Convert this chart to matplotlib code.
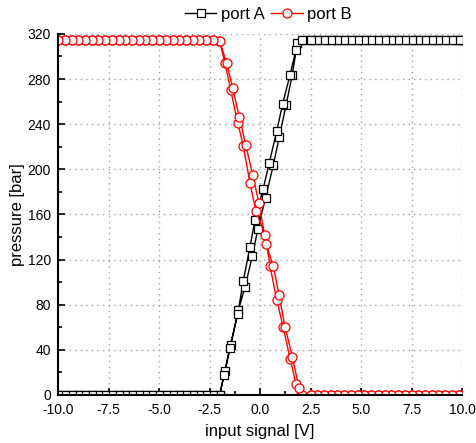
import matplotlib
matplotlib.use("Agg")
import matplotlib.pyplot as plt
from matplotlib.ticker import MultipleLocator

plt.rcParams["font.family"] = ["Liberation Sans", "DejaVu Sans"]

# input signal points on the saturated parts of the sweep [V]
plateau_lo = [-10.0, -9.67, -9.33, -9.0, -8.67, -8.33, -8.0, -7.67, -7.33, -7.0,
              -6.67, -6.33, -6.0, -5.67, -5.33, -5.0, -4.67, -4.33, -4.0, -3.67,
              -3.33, -3.0, -2.67, -2.33]
plateau_hi = [2.5, 2.83, 3.17, 3.5, 3.83, 4.17, 4.5, 4.83, 5.17, 5.5, 5.83, 6.17,
              6.5, 6.83, 7.17, 7.5, 7.83, 8.17, 8.5, 8.83, 9.17, 9.5, 9.83, 10.0]
p_min = 0.0     # bar
p_sat = 315.0   # bar

# port A, rising and falling sweep through the control range
xa_up = [-2.0, -1.73, -1.45, -1.07, -0.74, -0.38, -0.11, 0.28, 0.66, 0.96, 1.29, 1.60, 1.85, 2.18]
ya_up = [0, 21, 44, 75, 96, 123, 147, 175, 204, 229, 257, 284, 312, 315]
xa_dn = [2.1, 1.78, 1.49, 1.12, 0.83, 0.46, 0.16, -0.25, -0.50, -0.83, -1.10, -1.50, -1.78, -2.0]
ya_dn = [315, 306, 284, 258, 234, 206, 183, 155, 131, 101, 72, 42, 18, 0]

# port B
xb_up = [-2.01, -1.73, -1.45, -1.10, -0.83, -0.50, -0.20, 0.25, 0.50, 0.83, 1.15, 1.49, 1.78, 2.01]
yb_up = [314, 294, 270, 241, 221, 188, 163, 142, 114, 84, 60, 32, 10, 0]
xb_dn = [2.1, 1.93, 1.60, 1.24, 0.94, 0.66, 0.30, -0.05, -0.36, -0.71, -1.02, -1.35, -1.65, -2.0]
yb_dn = [0, 6, 34, 60, 89, 114, 134, 170, 195, 222, 246, 272, 294, 314]


def sweep(lo_level, hi_level, x_up, y_up, x_dn, y_dn):
    xs = plateau_lo + x_up + plateau_hi + plateau_hi[::-1] + x_dn + plateau_lo[::-1]
    ys = ([lo_level] * len(plateau_lo) + y_up + [hi_level] * len(plateau_hi)
          + [hi_level] * len(plateau_hi) + y_dn + [lo_level] * len(plateau_lo))
    return xs, ys


xa, ya = sweep(p_min, p_sat, xa_up, ya_up, xa_dn, ya_dn)
xb, yb = sweep(p_sat, p_min, xb_up, yb_up, xb_dn, yb_dn)

fig = plt.figure(figsize=(4.77, 4.43), dpi=100)
ax = fig.add_axes([0.1216, 0.1084, 0.847, 0.815])

ax.plot(xa, ya, color="black", lw=1.0, marker="s", ms=5.5, mfc="white",
        mec="black", mew=0.9, label="port A")
ax.plot(xb, yb, color="red", lw=1.0, marker="o", ms=6.5, mfc="white",
        mec="red", mew=0.9, label="port B")

ax.set_xlim(-10, 10)
ax.set_ylim(0, 320)
ax.xaxis.set_major_locator(MultipleLocator(2.5))
ax.xaxis.set_minor_locator(MultipleLocator(1.25))
ax.yaxis.set_major_locator(MultipleLocator(40))
ax.yaxis.set_minor_locator(MultipleLocator(20))
ax.xaxis.set_major_formatter(plt.FuncFormatter(lambda v, _: f"{v:.1f}"))

ax.tick_params(which="both", direction="in", width=1.2, labelsize=10)
ax.tick_params(axis="x", pad=6)
ax.tick_params(axis="y", pad=5)
ax.tick_params(which="major", length=5)
ax.tick_params(which="minor", length=3)
ax.grid(True, which="major", color="#a0a0a0", linestyle=(0, (1, 3)), lw=1.0)

for side in ("top", "right"):
    ax.spines[side].set_visible(False)
for side in ("left", "bottom"):
    ax.spines[side].set_linewidth(1.5)

ax.set_xlabel("input signal [V]", fontsize=12, labelpad=5)
ax.set_ylabel("pressure [bar]", fontsize=12, labelpad=2)

ax.legend(loc="center", bbox_to_anchor=(0.52, 1.053), ncol=2, frameon=False,
          fontsize=12, numpoints=1, handlelength=1.9, handletextpad=0.25,
          columnspacing=0.4, borderaxespad=0.0, borderpad=0.0)

fig.savefig("out.png", dpi=100)
